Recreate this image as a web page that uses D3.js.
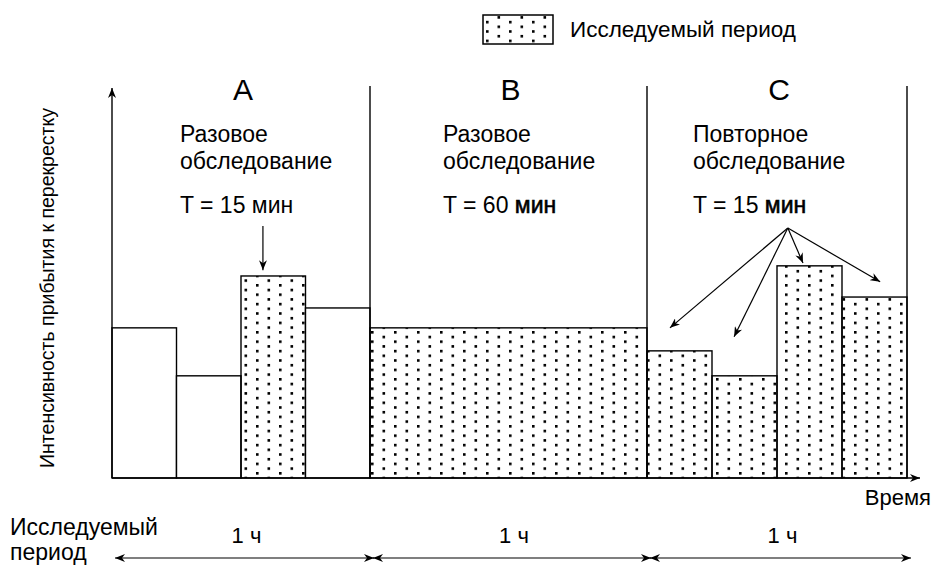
<!DOCTYPE html>
<html>
<head>
<meta charset="utf-8">
<script src="https://cdn.jsdelivr.net/npm/d3@7"></script>
<style>
  html, body { margin: 0; padding: 0; background: #fff; }
  svg { display: block; font-family: "Liberation Sans", Arial, sans-serif; }
</style>
</head>
<body>
<svg id="chart" width="934" height="566"></svg>
<script>
// Sections of the observation timeline
const sections = ["A", "B", "C"];
const sectionNotes = [
  ["Разовое", "обследование"],
  ["Разовое", "обследование"],
  ["Повторное", "обследование"]
];
const periodValues = ["T = 15 ", "T = 60 ", "T = 15 "];
const periodUnit = "мин";
const hourLabels = ["1 ч", "1 ч", "1 ч"];
const sectionBounds = [0, 60, 120, 180];           // minutes

// Counting intervals (minutes) and arrival intensity in each
const intervalStart = [0, 15, 30, 45, 60, 120, 135, 150, 165];
const intervalEnd   = [15, 30, 45, 60, 120, 135, 150, 165, 180];
const intensity     = [385, 262, 518, 436, 385, 326, 262, 544, 464];
const studied       = [false, false, true, false, true, true, true, true, true];

// Pointer arrows, in data units [minute, intensity]
const pointerA = { from: [35.1, 646], to: [35.1, 533] };
const pointerCOrigin = [152.5, 641];
const pointerCTips = [[125.3, 385], [140.1, 362], [156, 551], [173.8, 503]];

const axisYTitle = "Интенсивность прибытия к перекрестку";
const axisXTitle = "Время";
const legendLabel = "Исследуемый период";
const periodTitle = ["Исследуемый", "период"];

const svg = d3.select("#chart");
const x = d3.scaleLinear().domain(sectionBounds).range([112, 370, 647, 907]);
const y = d3.scaleLinear().domain([0, 1000]).range([478, 88]);

const defs = svg.append("defs");
const pat = defs.append("pattern")
  .attr("id", "dots").attr("patternUnits", "userSpaceOnUse")
  .attr("width", 23).attr("height", 9.4).attr("x", 3).attr("y", 2);
pat.append("rect").attr("x", 0).attr("y", 0).attr("width", 2.6).attr("height", 2.6).attr("fill", "#000");
pat.append("rect").attr("x", 11.5).attr("y", 4.7).attr("width", 2.6).attr("height", 2.6).attr("fill", "#000");

defs.append("marker")
  .attr("id", "head").attr("viewBox", "0 0 10 8")
  .attr("refX", 10).attr("refY", 4)
  .attr("markerUnits", "userSpaceOnUse")
  .attr("markerWidth", 10).attr("markerHeight", 8)
  .attr("orient", "auto-start-reverse")
  .append("path").attr("d", "M0,0L10,4L0,8L3,4Z").attr("fill", "#000");

// Bars
svg.append("g").selectAll("rect")
  .data(intensity)
  .join("rect")
  .attr("x", (d, i) => x(intervalStart[i]))
  .attr("width", (d, i) => x(intervalEnd[i]) - x(intervalStart[i]))
  .attr("y", d => y(d))
  .attr("height", d => y(0) - y(d))
  .attr("fill", (d, i) => studied[i] ? "url(#dots)" : "#fff")
  .attr("stroke", "#000").attr("stroke-width", 1.4);

// Section dividers
svg.append("g").selectAll("line")
  .data(sectionBounds.slice(1))
  .join("line")
  .attr("x1", d => x(d)).attr("x2", d => x(d))
  .attr("y1", 86).attr("y2", y(0))
  .attr("stroke", "#000").attr("stroke-width", 1.4);

// Axes
svg.append("line")
  .attr("x1", x(0)).attr("x2", x(0)).attr("y1", y(0)).attr("y2", 88)
  .attr("stroke", "#000").attr("stroke-width", 1.4).attr("marker-end", "url(#head)");
svg.append("line")
  .attr("x1", x(0)).attr("x2", 920).attr("y1", y(0)).attr("y2", y(0))
  .attr("stroke", "#000").attr("stroke-width", 1.4).attr("marker-end", "url(#head)");

svg.append("text")
  .attr("transform", "translate(54,288) rotate(-90)")
  .attr("text-anchor", "middle")
  .attr("font-size", 21)
  .attr("textLength", 360).attr("lengthAdjust", "spacingAndGlyphs")
  .text(axisYTitle);
svg.append("text")
  .attr("x", 931).attr("y", 505).attr("text-anchor", "end")
  .attr("font-size", 22).text(axisXTitle);

// Section headings and notes
const noteX = [180, 443, 693];
const unitStroke = [0, 0.6, 0.6];
sections.forEach((s, i) => {
  const cx = (x(sectionBounds[i]) + x(sectionBounds[i + 1])) / 2;
  svg.append("text").attr("x", cx + 2).attr("y", 100).attr("text-anchor", "middle")
    .attr("font-size", 30).text(s);
  sectionNotes[i].forEach((line, j) => {
    svg.append("text").attr("x", noteX[i]).attr("y", 142 + j * 27)
      .attr("font-size", 23).text(line);
  });
  const t = svg.append("text").attr("x", noteX[i]).attr("y", 213).attr("font-size", 23);
  t.append("tspan").text(periodValues[i]);
  t.append("tspan").attr("stroke", "#000").attr("stroke-width", unitStroke[i]).text(periodUnit);
});

// Pointer arrows
svg.append("line")
  .attr("x1", x(pointerA.from[0])).attr("y1", y(pointerA.from[1]))
  .attr("x2", x(pointerA.to[0])).attr("y2", y(pointerA.to[1]))
  .attr("stroke", "#000").attr("stroke-width", 1.2).attr("marker-end", "url(#head)");
svg.append("g").selectAll("line")
  .data(pointerCTips)
  .join("line")
  .attr("x1", x(pointerCOrigin[0])).attr("y1", y(pointerCOrigin[1]))
  .attr("x2", d => x(d[0])).attr("y2", d => y(d[1]))
  .attr("stroke", "#000").attr("stroke-width", 1.2).attr("marker-end", "url(#head)");

// Study-period spans under the axis
const spanY = 558;
hourLabels.forEach((lab, i) => {
  const x0 = x(sectionBounds[i]) + 3, x1 = x(sectionBounds[i + 1]) + 4;
  svg.append("line").attr("x1", x0).attr("x2", x1).attr("y1", spanY).attr("y2", spanY)
    .attr("stroke", "#000").attr("stroke-width", 1.2)
    .attr("marker-start", "url(#head)").attr("marker-end", "url(#head)");
  svg.append("text").attr("x", (x0 + x1) / 2 + 2).attr("y", 543).attr("text-anchor", "middle")
    .attr("font-size", 22).text(lab);
});
periodTitle.forEach((t, j) => {
  svg.append("text").attr("x", 10).attr("y", 535 + j * 25).attr("font-size", 23).text(t);
});

// Legend
svg.append("rect").attr("x", 483).attr("y", 15).attr("width", 70).attr("height", 29)
  .attr("fill", "url(#dots)").attr("stroke", "#000").attr("stroke-width", 1.5);
svg.append("text").attr("x", 570).attr("y", 37).attr("font-size", 22.5).text(legendLabel);
</script>
</body>
</html>
